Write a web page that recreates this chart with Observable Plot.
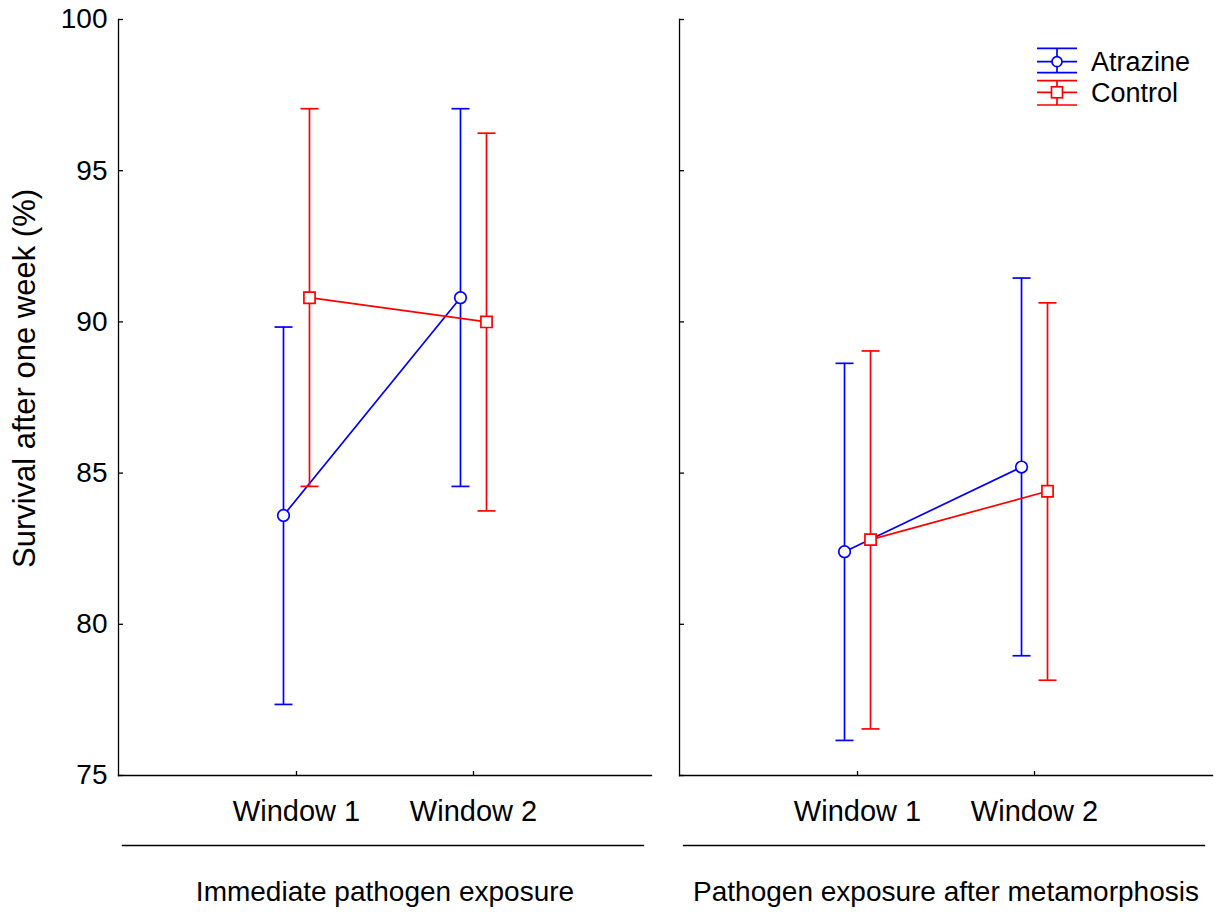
<!DOCTYPE html>
<html><head><meta charset="utf-8">
<script src="https://cdn.jsdelivr.net/npm/d3@7"></script>
<script src="https://cdn.jsdelivr.net/npm/@observablehq/plot@0.6"></script>
<style>
body{margin:0;background:#fff;font-family:"Liberation Sans",Arial,sans-serif;}
#wrap{position:relative;width:1221px;height:920px;}
#legend{position:absolute;left:0;top:0;pointer-events:none;}
</style></head><body><div id="wrap"></div>
<script>
const panels = ["Immediate pathogen exposure", "Pathogen exposure after metamorphosis"];
const windows = ["Window 1", "Window 2"];
const groups = ["Atrazine", "Control"];
// order: panel 1 W1, panel 1 W2, panel 2 W1, panel 2 W2
const atrazineMean = [83.6, 90.8, 82.4, 85.2];
const atrazineLow  = [77.35, 84.56, 76.16, 78.96];
const atrazineHigh = [89.83, 97.05, 88.63, 91.45];
const controlMean  = [90.8, 90.0, 82.8, 84.4];
const controlLow   = [84.56, 83.75, 76.54, 78.15];
const controlHigh  = [97.05, 96.24, 89.04, 90.63];
const yTicks = [75, 80, 85, 90, 95, 100];
const yLabel = "Survival after one week (%)";

const colors = {Atrazine: "#0000ff", Control: "#ff0000"};

function rows(group, mean, low, high) {
  return mean.map((m, i) => ({group, panel: panels[Math.floor(i / 2)], window: windows[i % 2], mean: m, low: low[i], high: high[i]}));
}
const atr = rows("Atrazine", atrazineMean, atrazineLow, atrazineHigh);
const ctl = rows("Control", controlMean, controlLow, controlHigh);

const capSymbol = {draw(context) { context.moveTo(-9, 0); context.lineTo(9, 0); }};

function series(data, color, symbol, r, dx) {
  const sw = 1.7;
  return [
    Plot.ruleX(data, {fx: "panel", x: "window", y1: "low", y2: "high", stroke: color, strokeWidth: sw, dx}),
    Plot.dot(data, {fx: "panel", x: "window", y: "high", stroke: color, fill: "none", strokeWidth: sw, dx, symbol: capSymbol, r: 5}),
    Plot.dot(data, {fx: "panel", x: "window", y: "low", stroke: color, fill: "none", strokeWidth: sw, dx, symbol: capSymbol, r: 5}),
    Plot.line(data, {fx: "panel", x: "window", y: "mean", stroke: color, strokeWidth: sw, dx}),
    Plot.dot(data, {fx: "panel", x: "window", y: "mean", stroke: color, fill: "white", strokeWidth: sw, symbol, r, dx})
  ];
}

const chart = Plot.plot({
  width: 1221,
  height: 920,
  marginTop: 19,
  marginBottom: 145,
  marginLeft: 118,
  marginRight: 9,
  style: {fontFamily: "'Liberation Sans', Arial, sans-serif", fontSize: "28px", color: "#000", background: "#fff"},
  fx: {domain: panels, paddingInner: 0.05, paddingOuter: 0, round: false, axis: null},
  x: {type: "point", domain: windows, padding: 1},
  y: {domain: [75, 100]},
  marks: [
    Plot.frame({anchor: "left", stroke: "#000", strokeWidth: 1.3}),
    Plot.frame({anchor: "bottom", stroke: "#000", strokeWidth: 1.3}),
    Plot.frame({anchor: "bottom", stroke: "#000", strokeWidth: 1.3, dy: 70, insetLeft: 4, insetRight: 8}),
    Plot.axisY({ticks: yTicks, tickSize: 0, tickPadding: 11, label: null, fontSize: 28, facetAnchor: "left"}),
    Plot.axisY({ticks: yTicks, tickSize: -5, tickFormat: () => "", label: null, facetAnchor: null, strokeWidth: 1.3}),
    Plot.axisX({tickSize: -4, tickPadding: 29, label: null, fontSize: 29, facetAnchor: null, strokeWidth: 1.3}),
    Plot.text(panels, {fx: d => d, text: d => d, frameAnchor: "bottom", dy: 125, fontSize: 28}),
    Plot.text([yLabel], {fx: () => panels[0], text: d => d, frameAnchor: "left", textAnchor: "middle", rotate: -90, dx: -93, dy: -19, fontSize: 31}),
    ...series(atr, colors.Atrazine, "circle", 5.8, -13),
    ...series(ctl, colors.Control, "square", 6.3, 13)
  ]
});
const wrap = document.getElementById("wrap");
wrap.appendChild(chart);

// Legend
const leg = d3.select(wrap).append("svg").attr("id", "legend").attr("width", 1221).attr("height", 920);
const legRows = [
  {g: "Atrazine", top: 48.3, mid: 61.7, bot: 72.7},
  {g: "Control", top: 80.7, mid: 92.3, bot: 105}
];
legRows.forEach(row => {
  const c = colors[row.g];
  const gg = leg.append("g").attr("stroke", c).attr("stroke-width", 1.7).attr("fill", "none");
  [row.top, row.mid, row.bot].forEach(y => gg.append("line").attr("x1", 1037).attr("x2", 1077).attr("y1", y).attr("y2", y));
  gg.append("line").attr("x1", 1057).attr("x2", 1057).attr("y1", row.top).attr("y2", row.bot);
  if (row.g === "Atrazine") gg.append("circle").attr("cx", 1057).attr("cy", row.mid).attr("r", 5).attr("fill", "white");
  else gg.append("rect").attr("x", 1051.5).attr("y", row.mid - 5.5).attr("width", 11).attr("height", 11).attr("fill", "white");
  leg.append("text").attr("x", 1091).attr("y", row.mid).attr("dy", "0.35em")
    .attr("font-family", "'Liberation Sans', Arial, sans-serif").attr("font-size", 27).attr("fill", "#000").text(row.g);
});
</script></body></html>
